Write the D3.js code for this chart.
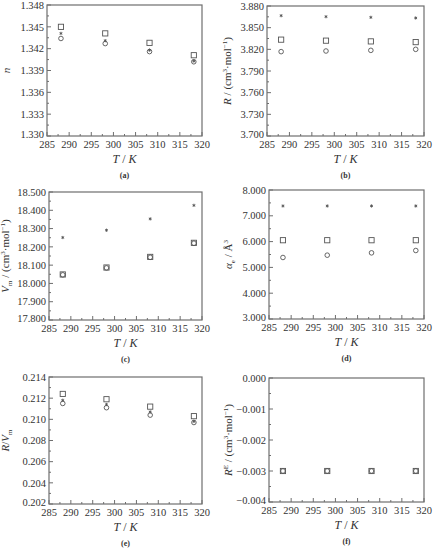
<!DOCTYPE html>
<html>
<head>
<meta charset="utf-8">
<script src="https://cdn.jsdelivr.net/npm/d3@7"></script>
<style>
  body { margin: 0; background: #fff; }
  svg text { font-family: "Liberation Serif", "DejaVu Serif", serif; fill: #333; }
</style>
</head>
<body>
<div id="chart"></div>
<script>
// temperatures (K)
var temps = [288.15, 298.15, 308.15, 318.15];
var xTicks = [285, 290, 295, 300, 305, 310, 315, 320];

// (a) refractive index n
var nSquare = [1.3450, 1.3441, 1.3428, 1.3411];
var nStar   = [1.3441, 1.3431, 1.3418, 1.3403];
var nCircle = [1.3434, 1.3427, 1.3416, 1.3402];

// (b) molar refraction R
var rStar   = [3.8666, 3.8652, 3.8643, 3.8634];
var rSquare = [3.8334, 3.8320, 3.8310, 3.8300];
var rCircle = [3.8168, 3.8177, 3.8186, 3.8200];

// (c) molar volume Vm
var vStar   = [18.251, 18.291, 18.353, 18.427];
var vSquare = [18.049, 18.087, 18.145, 18.222];
var vCircle = [18.047, 18.085, 18.143, 18.220];

// (d) polarizability
var aStar   = [7.381, 7.381, 7.381, 7.381];
var aSquare = [6.054, 6.054, 6.054, 6.054];
var aCircle = [5.384, 5.474, 5.564, 5.655];

// (e) R/Vm
var fSquare = [0.2124, 0.2119, 0.2112, 0.2103];
var fStar   = [0.2118, 0.2114, 0.2107, 0.2098];
var fCircle = [0.2115, 0.2111, 0.2104, 0.2097];

// (f) excess refraction
var eSquare = [-0.003, -0.003, -0.003, -0.003];
var eCircle = [-0.003, -0.003, -0.003, -0.003];

var panels = [
  {id: "(a)", x0: 47, x1: 202, y0: 5, y1: 136, dom: [1.330, 1.348], step: 0.003,
   yl: ["n"], ylx: 10, series: [["square", nSquare], ["star", nStar], ["circle", nCircle]]},
  {id: "(b)", x0: 267, x1: 424, y0: 6, y1: 136, dom: [3.700, 3.880], step: 0.03,
   yl: ["R", " / (cm", "3", "·mol", "−1", ")"], ylx: 231, series: [["star", rStar], ["square", rSquare], ["circle", rCircle]]},
  {id: "(c)", x0: 49, x1: 202, y0: 192, y1: 320, dom: [17.8, 18.5], step: 0.1,
   yl: ["V", "m", " / (cm", "3", "·mol", "−1", ")"], ylx: 9, series: [["star", vStar], ["square", vSquare], ["circle", vCircle]]},
  {id: "(d)", x0: 269, x1: 424, y0: 190, y1: 319, dom: [3, 8], step: 1,
   yl: ["α", "e", " / Å", "3"], ylx: 232, series: [["star", aStar], ["square", aSquare], ["circle", aCircle]]},
  {id: "(e)", x0: 49, x1: 202, y0: 377, y1: 504, dom: [0.202, 0.214], step: 0.002,
   yl: ["R", "/", "V", "m"], ylx: 9, series: [["square", fSquare], ["star", fStar], ["circle", fCircle]]},
  {id: "(f)", x0: 269, x1: 424, y0: 378, y1: 502, dom: [-0.004, 0], step: 0.001,
   yl: ["R", "E", " / (cm", "3", "·mol", "−1", ")"], ylx: 232, series: [["square", eSquare], ["circle", eCircle]]}
];

// how each label piece is styled: italic / sub / sup
var labelStyle = {
  "n": "i", "R": "i", "V": "i", "α": "i", "m": "sub", "e": "sub", "E": "sup", "3": "sup", "−1": "sup"
};

var svg = d3.select("#chart").append("svg")
    .attr("width", 434)
    .attr("height", 550);

var axisColor = "#6e6e6e";
var markColor = "#555";

panels.forEach(function(p) {
  var x = d3.scaleLinear().domain([285, 320]).range([p.x0, p.x1]);
  var y = d3.scaleLinear().domain(p.dom).range([p.y1, p.y0]);
  var g = svg.append("g");

  var nMaj = Math.round((p.dom[1] - p.dom[0]) / p.step);
  var yMajor = d3.range(nMaj + 1).map(function(i) { return p.dom[0] + i * p.step; });
  var yMinor = d3.range(nMaj).map(function(i) { return p.dom[0] + (i + 0.5) * p.step; });
  var xMinor = d3.range(7).map(function(i) { return 287.5 + i * 5; });

  // frame
  g.append("rect")
    .attr("x", p.x0).attr("y", p.y0)
    .attr("width", p.x1 - p.x0).attr("height", p.y1 - p.y0)
    .attr("fill", "none").attr("stroke", axisColor).attr("stroke-width", 1.2);

  // inward ticks
  g.selectAll(".ymaj").data(yMajor).enter().append("line")
    .attr("x1", p.x0).attr("x2", p.x0 + 4)
    .attr("y1", function(d) { return y(d); }).attr("y2", function(d) { return y(d); })
    .attr("stroke", axisColor);
  g.selectAll(".ymin").data(yMinor).enter().append("line")
    .attr("x1", p.x0).attr("x2", p.x0 + 2)
    .attr("y1", function(d) { return y(d); }).attr("y2", function(d) { return y(d); })
    .attr("stroke", axisColor);
  g.selectAll(".xmaj").data(xTicks).enter().append("line")
    .attr("x1", function(d) { return x(d); }).attr("x2", function(d) { return x(d); })
    .attr("y1", p.y1).attr("y2", p.y1 - 4)
    .attr("stroke", axisColor);
  g.selectAll(".xmin").data(xMinor).enter().append("line")
    .attr("x1", function(d) { return x(d); }).attr("x2", function(d) { return x(d); })
    .attr("y1", p.y1).attr("y2", p.y1 - 2)
    .attr("stroke", axisColor);

  // tick labels
  g.selectAll(".yl").data(yMajor).enter().append("text")
    .attr("x", p.x0 - 3)
    .attr("y", function(d, i) { return y(d) - (i === 0 ? 2 : 0); })
    .attr("dy", "0.35em")
    .attr("text-anchor", "end")
    .style("font-size", "10.5px")
    .text(function(d) { return d3.format(".3f")(d).replace("-", "−"); });
  g.selectAll(".xl").data(xTicks).enter().append("text")
    .attr("x", function(d) { return x(d); })
    .attr("y", p.y1 + 12)
    .attr("text-anchor", "middle")
    .style("font-size", "10.5px")
    .text(function(d) { return d; });

  // x title
  var xt = g.append("text")
    .attr("x", (p.x0 + p.x1) / 2)
    .attr("y", p.y1 + 27)
    .attr("text-anchor", "middle")
    .style("font-size", "12px");
  xt.append("tspan").style("font-style", "italic").text("T");
  xt.append("tspan").text(" / ");
  xt.append("tspan").style("font-style", "italic").text("K");

  // panel id
  g.append("text")
    .attr("x", (p.x0 + p.x1) / 2)
    .attr("y", p.y1 + 42)
    .attr("text-anchor", "middle")
    .style("font-size", "8px")
    .style("font-weight", "bold")
    .text(p.id);

  // y title, sub/sup done with dy so it works in rotated text
  var yt = g.append("text")
    .attr("transform", "translate(" + p.ylx + "," + ((p.y0 + p.y1) / 2) + ") rotate(-90)")
    .attr("text-anchor", "middle")
    .attr("dy", "0.35em")
    .style("font-size", "11px");
  var shift = 0;
  p.yl.forEach(function(s) {
    var st = labelStyle[s];
    var target = st === "sub" ? 2.5 : (st === "sup" ? -4 : 0);
    var t = yt.append("tspan").text(s).attr("dy", target - shift);
    shift = target;
    if (st === "i") t.style("font-style", "italic");
    if (st === "sub" || st === "sup") t.style("font-size", "7px");
  });

  // markers
  p.series.forEach(function(s) {
    var kind = s[0], vals = s[1];
    var pts = vals.map(function(v, i) { return [temps[i], v]; });
    var sel = g.selectAll(".m-" + kind).data(pts).enter();
    if (kind === "square") {
      sel.append("rect")
        .attr("x", function(d) { return x(d[0]) - 2.6; })
        .attr("y", function(d) { return y(d[1]) - 2.6; })
        .attr("width", 5.2).attr("height", 5.2)
        .attr("fill", "none").attr("stroke", markColor).attr("stroke-width", 0.9);
    } else if (kind === "circle") {
      sel.append("circle")
        .attr("cx", function(d) { return x(d[0]); })
        .attr("cy", function(d) { return y(d[1]); })
        .attr("r", 2.3)
        .attr("fill", "none").attr("stroke", markColor).attr("stroke-width", 0.9);
    } else {
      sel.append("path")
        .attr("transform", function(d) { return "translate(" + x(d[0]) + "," + y(d[1]) + ")"; })
        .attr("d", d3.symbol(d3.symbolAsterisk, 7))
        .attr("fill", "none").attr("stroke", markColor).attr("stroke-width", 0.9);
    }
  });
});
</script>
</body>
</html>
